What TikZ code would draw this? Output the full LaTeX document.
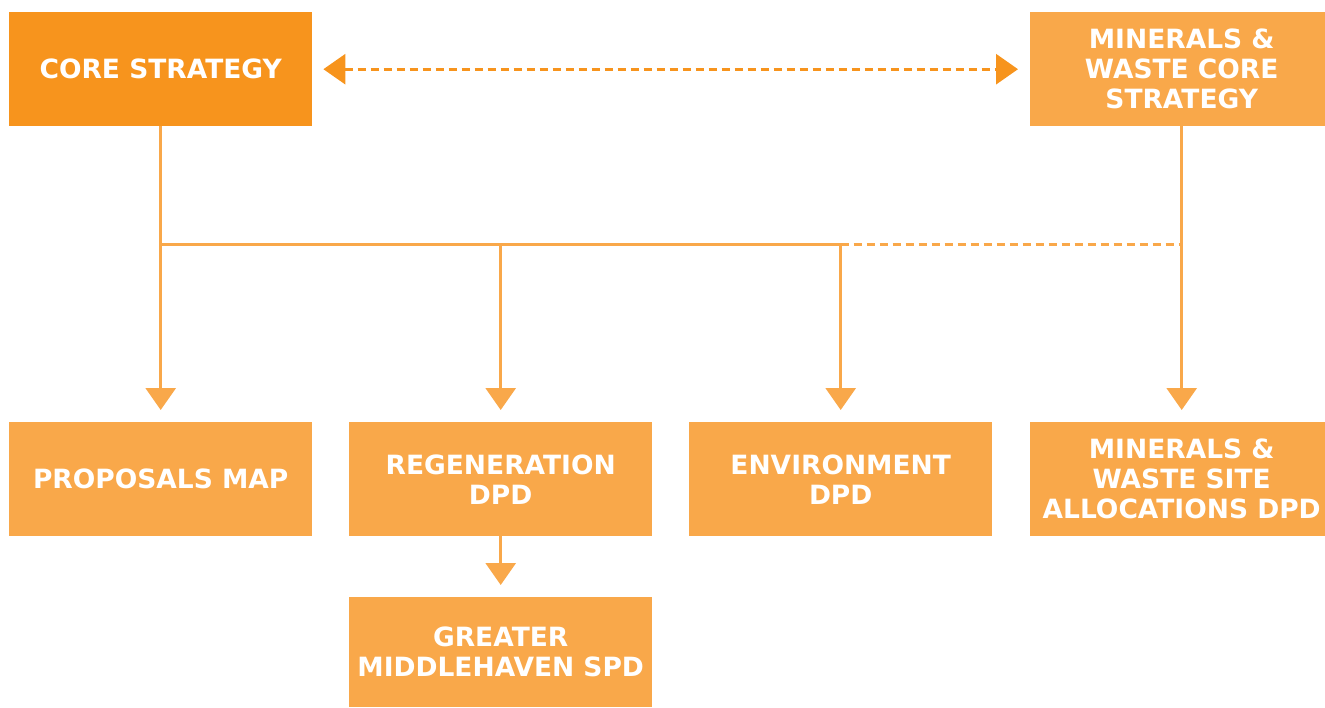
\documentclass[tikz,border=0pt]{standalone}
\usepackage{fontspec}
\setmainfont{DejaVu Sans}
\usetikzlibrary{arrows.meta}
\definecolor{dark}{HTML}{F7941D}
\definecolor{light}{HTML}{F9A84A}
\begin{document}
\begin{tikzpicture}[x=1pt,y=-1pt,
  box/.style={fill=light,minimum width=303pt,minimum height=114pt,inner sep=0pt,anchor=north west,
    text=white,align=center,font=\bfseries\fontsize{26.5}{30}\selectfont},
  conn/.style={draw=light,line width=3pt,-{Triangle[width=30pt,length=22pt]},shorten >=12pt},
  plain/.style={draw=light,line width=3pt}]
\useasboundingbox (0,0) rectangle (1325,707);
\begin{scope}
\clip (0,0) rectangle (1325,707);
\node[box,fill=dark] (core) at (9,12) {CORE STRATEGY};
\node[box] (mwcore) at (1030,12) {MINERALS \&\\WASTE CORE\\STRATEGY};
\node[box] (prop) at (9,422) {PROPOSALS MAP};
\node[box] (regen) at (349,422) {REGENERATION\\DPD};
\node[box] (env) at (689,422) {ENVIRONMENT\\DPD};
\node[box] (mwsite) at (1030,422) {MINERALS \&\\WASTE SITE\\ALLOCATIONS DPD};
\node[box,minimum height=110pt] (gm) at (349,597) {GREATER\\MIDDLEHAVEN SPD};
\end{scope}
\coordinate (j1) at (core.south |- 0,244);
\coordinate (j2) at (regen.north |- j1);
\coordinate (j3) at (env.north |- j1);
\coordinate (j4) at (mwcore.south |- j1);
\draw[draw=dark,line width=3pt,dash pattern=on 8pt off 5pt,
  {Triangle[width=30pt,length=22pt]}-{Triangle[width=30pt,length=22pt]},
  shorten <=11pt,shorten >=12pt] (core.east) -- (mwcore.west);
\draw[conn] (core.south) -- (prop.north);
\draw[plain] (j1) -- (j3);
\draw[plain,dash pattern=on 8pt off 5pt] (j3) -- (j4);
\draw[conn] (j2) -- (regen.north);
\draw[conn] (j3) -- (env.north);
\draw[conn] (mwcore.south) -- (mwsite.north);
\draw[conn] (regen.south) -- (gm.north);
\end{tikzpicture}
\end{document}
